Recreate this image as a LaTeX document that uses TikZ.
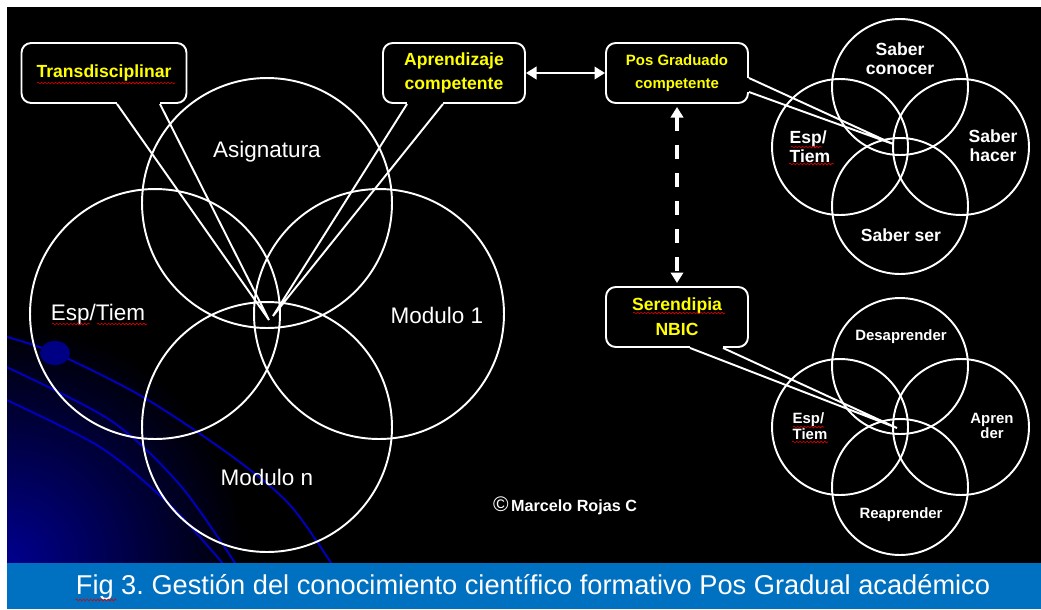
\documentclass[tikz,border=0pt]{standalone}
\usepackage{fontspec}
\setmainfont{Liberation Sans}
\usepackage{tikz}
\usetikzlibrary{positioning, arrows.meta, decorations.pathmorphing}
\usepackage{xcolor}
\definecolor{capblue}{RGB}{0,112,192}
\definecolor{callyellow}{RGB}{255,255,0}
\definecolor{orbitblue}{RGB}{0,0,190}
\tikzset{
  ring/.style={circle, draw=white, line width=1.1pt, minimum size=#1, inner sep=0pt},
  biglabel/.style={text=white, inner sep=0pt, font=\fontsize{12.8}{14}\selectfont},
  smalllabel/.style={text=white, inner sep=0pt, align=center, font=\bfseries\fontsize{10}{10.6}\selectfont},
  tinylabel/.style={text=white, inner sep=0pt, align=center, font=\bfseries\fontsize{8.5}{9}\selectfont},
  callbox/.style={draw=white, line width=1.1pt, rounded corners=5.5pt, minimum width=#1, minimum height=1.2cm,
    align=center, text=callyellow, inner sep=0pt, font=\bfseries\fontsize{10}{14}\selectfont},
  pointer/.style={draw=white, line width=1.1pt},
  gapcover/.style={draw=black, line width=2.2pt},
  squiggle/.style={draw=red!85!black, line width=0.35pt, decorate, decoration={snake, amplitude=0.5pt, segment length=2pt}},
  orbit/.style={draw=orbitblue, line width=1.1pt},
}

\begin{document}
\frenchspacing
\begin{tikzpicture}[x=0.02cm, y=-0.02cm]
\useasboundingbox (0,0) rectangle (1041,609);
\fill[white] (0,0) rectangle (1041,609);
\fill[black] (7,7) rectangle (1041,563);
% background glow and orbits
\begin{scope}
  \clip (7,7) rectangle (1041,563);
  \shade[inner color=orbitblue!75!black, outer color=black] (7,563) circle (240);
  \draw[orbit] plot[smooth] coordinates {(0,335) (55,353) (143,397) (233,457) (290,505) (333,566)};
  \draw[orbit] plot[smooth] coordinates {(0,364) (110,420) (180,485) (237,566)};
  \draw[orbit] plot[smooth] coordinates {(0,397) (100,447) (170,505) (225,566)};
\end{scope}
\fill[orbitblue!70!black] (55,353) ellipse (15 and 12);
\fill[capblue] (7,563) rectangle (1041,609);

% big circles
\node[ring=5cm] (asig) at (267,203) {};
\node[ring=5cm] (esp) at (155,314) {};
\node[ring=5cm] (mod1) at (379,314) {};
\node[ring=5cm] (modn) at (267,427) {};
\node[biglabel] (lasig) at (267,152) {Asignatura};
\node[biglabel] (lesp) at (98,315) {Esp/Tiem};
\node[biglabel] (lmod1) at (437,315) {Modulo 1};
\node[biglabel] (lmodn) at (267,477) {Modulo n};

% saber circles
\node[ring=2.72cm] (sconoc) at (900,87) {};
\node[ring=2.72cm] (sesp) at (840,147) {};
\node[ring=2.72cm] (shacer) at (961,147) {};
\node[ring=2.72cm] (sser) at (900,206) {};
\node[smalllabel] (lsconoc) at (900,59) {Saber\\conocer};
\node[smalllabel, align=left] (lsesp) at (810,147) {Esp/\\Tiem};
\node[smalllabel] (lshacer) at (993,146) {Saber\\hacer};
\node[smalllabel] (lsser) at (901,235) {Saber ser};

% aprender circles
\node[ring=2.72cm] (rdes) at (900,366) {};
\node[ring=2.72cm] (resp) at (840,427) {};
\node[ring=2.72cm] (rapr) at (961,427) {};
\node[ring=2.72cm] (rrea) at (900,487) {};
\node[tinylabel] (lrdes) at (901,337) {Desaprender};
\node[tinylabel, align=left] (lresp) at (810,426) {Esp/\\Tiem};
\node[tinylabel] (lrapr) at (992,426) {Apren\\der};
\node[tinylabel] (lrrea) at (901,515) {Reaprender};

% callouts
\node[callbox=3.3cm] (trans) at (104,73) {Transdisciplinar};
\node[callbox=2.84cm] (aprend) at (454,73) {Aprendizaje\\competente};
\node[callbox=2.84cm, font=\bfseries\fontsize{8.5}{13}\selectfont] (posgrad) at (677,73) {Pos Graduado\\competente};
\node[callbox=2.84cm] (seren) at (677,317) {Serendipia\\NBIC};
\coordinate (transtip) at (269,320);
\coordinate (aprendtip) at (273,316);
\coordinate (postip) at (893,144);
\coordinate (serentip) at (897,428);

\draw[gapcover] ([xshift=0.26cm]trans.south) -- ([xshift=1.12cm]trans.south);
\draw[pointer] ([xshift=0.26cm]trans.south) -- (transtip) -- ([xshift=1.12cm]trans.south);
\draw[gapcover] ([xshift=-0.94cm]aprend.south) -- ([xshift=-0.22cm]aprend.south);
\draw[pointer] ([xshift=-0.94cm]aprend.south) -- (aprendtip) -- ([xshift=-0.22cm]aprend.south);
\draw[gapcover] ([yshift=-0.1cm]posgrad.east) -- ([yshift=-0.38cm]posgrad.east);
\draw[pointer] ([yshift=-0.1cm]posgrad.east) -- (postip) -- ([yshift=-0.38cm]posgrad.east);
\draw[gapcover] ([xshift=0.26cm]seren.south) -- ([xshift=0.92cm]seren.south);
\draw[pointer] ([xshift=0.26cm]seren.south) -- (serentip) -- ([xshift=0.92cm]seren.south);

% connectors
\draw[white, line width=1.7pt, {Triangle[width=7pt,length=6pt]}-{Triangle[width=7pt,length=6pt]}] (aprend.east) -- (posgrad.west);
\draw[white, line width=2pt, dash pattern=on 8pt off 8pt, {Triangle[width=7pt,length=6pt]}-{Triangle[width=7pt,length=6pt]}] ([yshift=-0.06cm]posgrad.south) -- ([yshift=0.06cm]seren.north);

% spelling marks
\draw[squiggle] ([xshift=-1.34cm, yshift=-0.2cm]trans.center) -- ([xshift=1.42cm, yshift=-0.2cm]trans.center);
\draw[squiggle] ([xshift=-0.88cm, yshift=0.08cm]seren.center) -- ([xshift=0.96cm, yshift=0.08cm]seren.center);
\draw[squiggle] ([xshift=-0.92cm, yshift=-0.18cm]lesp.center) -- ([xshift=-0.16cm, yshift=-0.18cm]lesp.center);
\draw[squiggle] ([xshift=-0.02cm, yshift=-0.18cm]lesp.center) -- ([xshift=0.98cm, yshift=-0.18cm]lesp.center);
\draw[squiggle] ([xshift=-0.38cm]lsesp.center) -- ([xshift=0.24cm]lsesp.center);
\draw[squiggle] ([xshift=-0.42cm, yshift=-0.34cm]lsesp.center) -- ([xshift=0.48cm, yshift=-0.34cm]lsesp.center);
\draw[squiggle] ([xshift=-0.34cm, yshift=-0.02cm]lresp.center) -- ([xshift=0.28cm, yshift=-0.02cm]lresp.center);
\draw[squiggle] ([xshift=-0.36cm, yshift=-0.32cm]lresp.center) -- ([xshift=0.36cm, yshift=-0.32cm]lresp.center);

% signature and caption
\node[text=white, inner sep=0pt, font=\bfseries\fontsize{9.2}{11}\selectfont] (sign) at (565,506) {{\mdseries\fontsize{12}{12}\selectfont ©}\,Marcelo Rojas C};
\node[text=white, inner sep=0pt, font=\fontsize{15.5}{18}\selectfont] (caption) at (533,587) {Fig 3. Gestión del conocimiento científico formativo Pos Gradual académico};
\draw[squiggle] ([yshift=-0.26cm]caption.west) -- ([xshift=0.82cm, yshift=-0.26cm]caption.west);
\end{tikzpicture}
\end{document}
